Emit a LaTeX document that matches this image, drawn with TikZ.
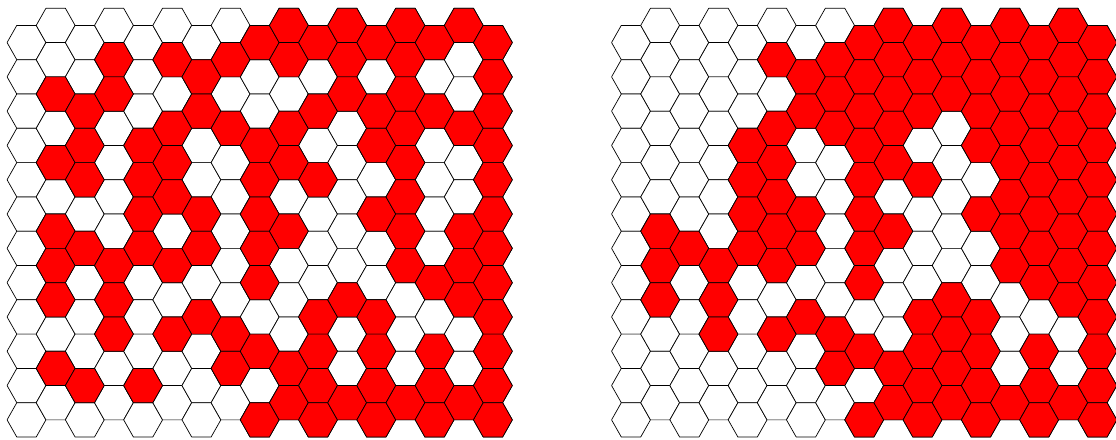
\documentclass[tikz,border=0pt]{standalone}
\usepackage{tikz}

% one flat-topped cell centred at (#2,#3)
\newcommand{\hexcell}[3][cell]{%
  \path[#1] (#2,#3) ++(-19.43,0) -- ++(9.715,-17.15) -- ++(19.43,0)
    -- ++(9.715,17.15) -- ++(-9.715,17.15) -- ++(-19.43,0) -- cycle;}

\begin{document}
\begin{tikzpicture}[
  x=1pt, y=-1pt,
  cell/.style={draw=black, line width=0.7pt, line join=round, fill=white},
  hot/.style={cell, fill=red}
]
\useasboundingbox (0,0) rectangle (1116,439);

% empty grids
\foreach \gx in {26.5,631} {
  \foreach \c in {0,...,16} {
    \foreach \r in {0,...,11} {
      \pgfmathsetmacro\cx{\gx+29.15*\c}
      \pgfmathsetmacro\cy{25.4+17.15*(1-mod(\c,2))+34.3*\r}
      \hexcell{\cx}{\cy}
    }
  }
}

% red cells, left grid
\foreach \c/\rows in {1/{2,4,6,7,8,10}, 2/{2,3,4,6,10}, 3/{1,2,7,8,9},
    4/{3,4,5,6,10}, 5/{1,3,4,5,7,9}, 6/{1,2,5,6,8}, 7/{1,3,9,10},
    8/{0,3,4,5,6,7,9,11}, 9/{0,1,3,4,6,10,11}, 10/{0,2,4,8,9,10,11},
    11/{0,1,2,8,11}, 12/{0,2,3,5,8,9,10,11}, 13/{0,1,2,3,4,5,6,7,11},
    14/{0,2,7,9,10,11}, 15/{0,3,6,7,8,11}, 16/{0,1,2,3,4,5,6,7,8,9,10,11}} {
  \foreach \r in \rows {
    \pgfmathsetmacro\cx{26.5+29.15*\c}
    \pgfmathsetmacro\cy{25.4+17.15*(1-mod(\c,2))+34.3*\r}
    \hexcell[hot]{\cx}{\cy}
  }
}

% red cells, right grid
\foreach \c/\rows in {1/{6,7,8}, 2/{6}, 3/{7,8,9}, 4/{3,4,5,6},
    5/{1,3,4,5,6,7,9}, 6/{1,2,5,6,8}, 7/{1,2,3,9,10},
    8/{0,1,2,3,4,5,6,7,9,11}, 9/{0,1,2,3,4,6,10,11}, 10/{0,1,2,4,8,9,10,11},
    11/{0,1,2,8,9,10,11}, 12/{0,1,2,3,5,8,9,10,11}, 13/{0,1,2,3,4,5,6,7,11},
    14/{0,1,2,3,4,5,6,7,9,10,11}, 15/{0,1,2,3,4,5,6,7,8,11},
    16/{0,1,2,3,4,5,6,7,8,9,10,11}} {
  \foreach \r in \rows {
    \pgfmathsetmacro\cx{631+29.15*\c}
    \pgfmathsetmacro\cy{25.4+17.15*(1-mod(\c,2))+34.3*\r}
    \hexcell[hot]{\cx}{\cy}
  }
}

\end{tikzpicture}
\end{document}
